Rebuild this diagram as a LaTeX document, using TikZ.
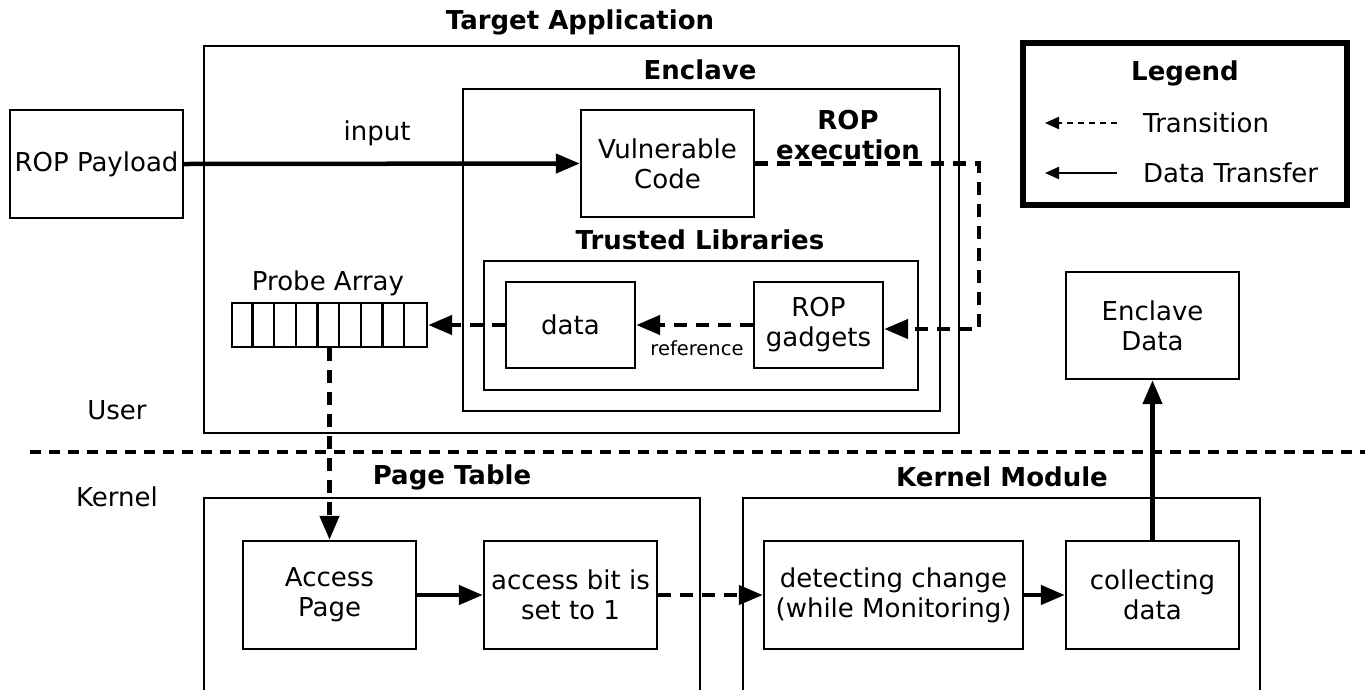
\documentclass[tikz,border=0pt]{standalone}
\usepackage{fontspec}
\setmainfont{DejaVu Sans}
\usetikzlibrary{arrows.meta}
\begin{document}
\begin{tikzpicture}[x=1pt,y=-1pt,
  box/.style={draw, line width=2.4pt, inner sep=0pt, align=center, font=\fontsize{26}{30}\selectfont},
  ttl/.style={font=\bfseries\fontsize{26}{30}\selectfont, inner sep=0pt, align=center},
  lbl/.style={font=\fontsize{26}{30}\selectfont, inner sep=0pt},
  small/.style={font=\fontsize{19.5}{23}\selectfont, inner sep=0pt},
  datatr/.style={line width=4.5pt, -{Triangle[length=24pt,width=19pt]}},
  transit/.style={line width=4.5pt, dash pattern=on 13pt off 9pt, -{Triangle[length=24pt,width=19pt]}},
  legdata/.style={line width=2.2pt, -{Triangle[length=14pt,width=12pt]}},
  legtrans/.style={line width=2.2pt, dash pattern=on 6pt off 5pt, -{Triangle[length=14pt,width=12pt]}},
]
\clip (0,0) rectangle (1365,689);
\fill[white] (0,0) rectangle (1365,689);

% Target application
\node[ttl] (ttarget) at (580,22) {Target Application};
\node[box, minimum width=755pt, minimum height=387pt] (target) at (581.5,239.5) {};
\node[ttl] (tenclave) at (700,70) {Enclave};
\node[box, minimum width=477pt, minimum height=322pt] (enclave) at (701.5,250) {};
\node[box, minimum width=173pt, minimum height=107pt] (vc) at (667.5,163.5) {Vulnerable\\Code};
\node[ttl] (ropexec) at (848,135) {ROP\\execution};
\node[ttl] (ttl) at (700,240) {Trusted Libraries};
\node[box, minimum width=434pt, minimum height=129pt] (tl) at (701,325.5) {};
\node[box, minimum width=129pt, minimum height=86pt] (data) at (570.5,325) {data};
\node[box, minimum width=129pt, minimum height=86pt] (gadgets) at (818.5,325) {ROP\\gadgets};
\node[small] (ref) at (697,348) {reference};

% Probe array
\node[lbl] (tprobe) at (328,283) {Probe Array};
\node[box, minimum width=195pt, minimum height=44pt] (probe) at (329.5,325) {};
\foreach \i in {1,...,8}
  \draw[line width=2.4pt] ([xshift=\i*21.667pt]probe.south west) -- ([xshift=\i*21.667pt]probe.north west);

% ROP payload
\node[box, minimum width=173pt, minimum height=108pt] (payload) at (96.5,164) {ROP Payload};
\node[lbl] (input) at (377,133) {input};

% Enclave data
\node[box, minimum width=173pt, minimum height=107pt] (encdata) at (1152.5,325.5) {Enclave\\Data};

% Separator
\coordinate (sepl) at (30,452);
\coordinate (sepr) at (1370,452);
\draw[line width=4.5pt, dash pattern=on 11pt off 8pt] (sepl) -- (sepr);
\node[lbl] (user) at (117,410) {User};
\node[lbl] (kernel) at (117,497) {Kernel};

% Page table
\node[ttl] (tpage) at (452,477) {Page Table};
\node[box, minimum width=496pt, minimum height=222pt] (pagetable) at (452,609) {};
\node[box, minimum width=173pt, minimum height=108pt] (access) at (329.5,595) {Access\\Page};
\node[box, minimum width=173pt, minimum height=108pt] (accbit) at (570.5,595) {access bit is\\set to 1};

% Kernel module
\node[ttl] (tkmod) at (1002,477) {Kernel Module};
\node[box, minimum width=517pt, minimum height=222pt] (kmod) at (1001.5,609) {};
\node[box, minimum width=259pt, minimum height=108pt] (detect) at (893.5,595) {detecting change\\(while Monitoring)};
\node[box, minimum width=173pt, minimum height=108pt] (collect) at (1152.5,595) {collecting\\data};

% Legend
\node[draw, line width=6pt, minimum width=324pt, minimum height=162pt, inner sep=0pt] (legend) at (1185,124) {};
\node[ttl] (tlegend) at (1185,73) {Legend};
\coordinate (lt1) at (1117,123);
\coordinate (lt2) at (1045,123);
\coordinate (ld1) at (1117,173);
\coordinate (ld2) at (1045,173);
\draw[legtrans] (lt1) -- (lt2);
\draw[legdata] (ld1) -- (ld2);
\node[lbl, anchor=west] (ltrans) at (1143,123) {Transition};
\node[lbl, anchor=west] (ldata) at (1143,173) {Data Transfer};

% Connectors
\coordinate (rturn) at (979,250);
\draw[datatr] (payload.east) -- (vc.west);
\draw[transit] (vc.east) -| (rturn) |- ([yshift=-4pt]gadgets.east);
\draw[transit] (gadgets.west) -- (data.east);
\draw[transit] (data.west) -- (probe.east);
\draw[transit] (probe.south) -- (access.north);
\draw[datatr] (access.east) -- (accbit.west);
\draw[transit] (accbit.east) -- (detect.west);
\draw[datatr] (detect.east) -- (collect.west);
\draw[datatr] (collect.north) -- (encdata.south);
\end{tikzpicture}
\end{document}
